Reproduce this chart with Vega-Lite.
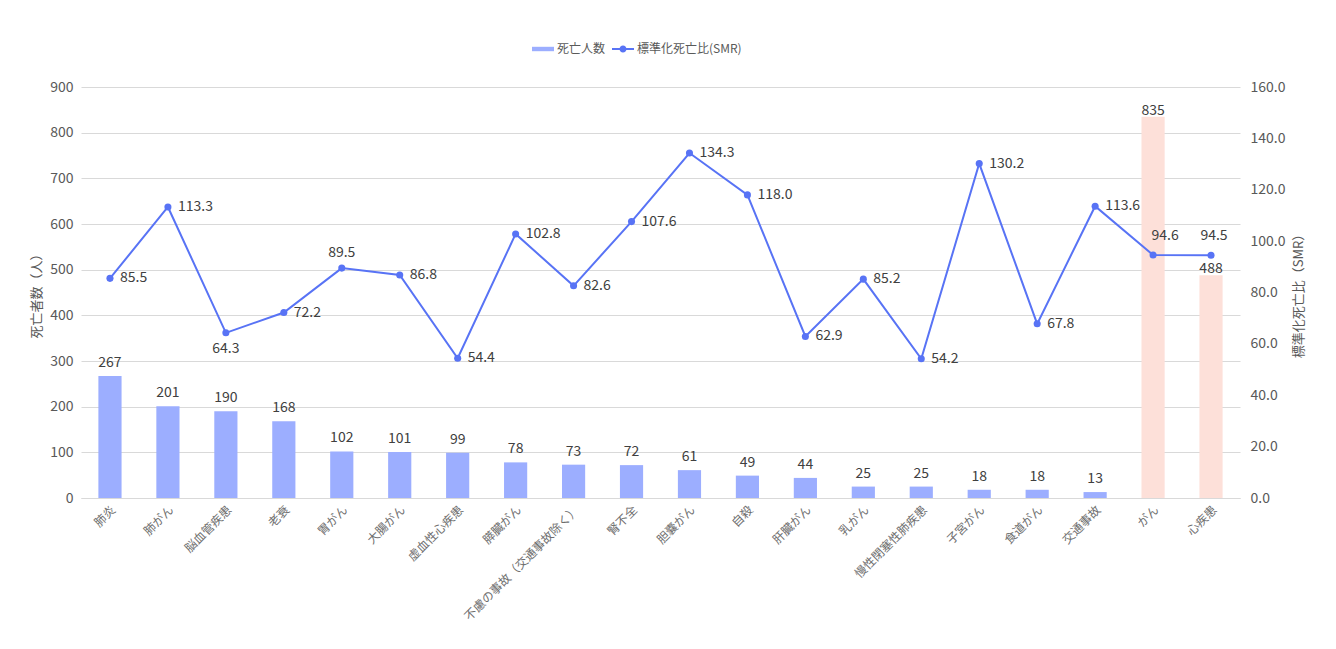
{
  "$schema": "https://vega.github.io/schema/vega-lite/v6.json",
  "width": 1159,
  "height": 411,
  "padding": {"left": 30, "top": 38, "right": 30, "bottom": 5},
  "background": "white",
  "config": {
    "font": "Noto Sans CJK JP",
    "view": {"stroke": null},
    "axis": {"labelColor": "#595959", "titleColor": "#595959", "titleFontWeight": "normal", "gridColor": "#d9d9d9", "domainColor": "#d9d9d9"}
  },
  "data": {
    "values": [
      {"cause": "肺炎", "deaths": 267, "smr": 85.5, "group": "detail"},
      {"cause": "肺がん", "deaths": 201, "smr": 113.3, "group": "detail"},
      {"cause": "脳血管疾患", "deaths": 190, "smr": 64.3, "group": "detail"},
      {"cause": "老衰", "deaths": 168, "smr": 72.2, "group": "detail"},
      {"cause": "胃がん", "deaths": 102, "smr": 89.5, "group": "detail"},
      {"cause": "大腸がん", "deaths": 101, "smr": 86.8, "group": "detail"},
      {"cause": "虚血性心疾患", "deaths": 99, "smr": 54.4, "group": "detail"},
      {"cause": "膵臓がん", "deaths": 78, "smr": 102.8, "group": "detail"},
      {"cause": "不慮の事故（交通事故除く）", "deaths": 73, "smr": 82.6, "group": "detail"},
      {"cause": "腎不全", "deaths": 72, "smr": 107.6, "group": "detail"},
      {"cause": "胆嚢がん", "deaths": 61, "smr": 134.3, "group": "detail"},
      {"cause": "自殺", "deaths": 49, "smr": 118.0, "group": "detail"},
      {"cause": "肝臓がん", "deaths": 44, "smr": 62.9, "group": "detail"},
      {"cause": "乳がん", "deaths": 25, "smr": 85.2, "group": "detail"},
      {"cause": "慢性閉塞性肺疾患", "deaths": 25, "smr": 54.2, "group": "detail"},
      {"cause": "子宮がん", "deaths": 18, "smr": 130.2, "group": "detail"},
      {"cause": "食道がん", "deaths": 18, "smr": 67.8, "group": "detail"},
      {"cause": "交通事故", "deaths": 13, "smr": 113.6, "group": "detail"},
      {"cause": "がん", "deaths": 835, "smr": 94.6, "group": "total"},
      {"cause": "心疾患", "deaths": 488, "smr": 94.5, "group": "total"}
    ]
  },
  "encoding": {
    "x": {
      "field": "cause", "type": "nominal", "sort": null,
      "scale": {"paddingInner": 0.6, "paddingOuter": 0.3},
      "axis": {"title": null, "labelAngle": -45, "labelFontSize": 12, "labelColor": "#6e6e6e", "ticks": false, "labelPadding": 6, "domainColor": "#d9d9d9"}
    }
  },
  "layer": [
    {
      "encoding": {
        "y": {
          "field": "deaths", "type": "quantitative",
          "scale": {"domain": [0, 900], "nice": false},
          "axis": {"title": "死亡者数（人）", "titleFontSize": 13, "values": [0,100,200,300,400,500,600,700,800,900], "labelFontSize": 14, "domain": false, "ticks": false, "labelPadding": 8, "titlePadding": 6, "grid": true}
        }
      },
      "layer": [
        {
          "transform": [{"filter": "datum.group === 'detail'"}],
          "mark": {"type": "bar"},
          "encoding": {"color": {"datum": "死亡人数", "type": "nominal"}}
        },
        {
          "transform": [{"filter": "datum.group === 'total'"}],
          "mark": {"type": "bar", "color": "#fde0d9"}
        },
        {
          "transform": [{"filter": "datum.group === 'detail'"}],
          "mark": {"type": "text", "baseline": "bottom", "dy": -6, "fontSize": 14, "color": "#404040"},
          "encoding": {"text": {"field": "deaths", "type": "quantitative"}}
        },
        {
          "transform": [{"filter": "datum.group === 'total'"}],
          "mark": {"type": "text", "baseline": "bottom", "dy": 1, "fontSize": 14, "color": "#404040"},
          "encoding": {"text": {"field": "deaths", "type": "quantitative"}}
        }
      ]
    },
    {
      "encoding": {
        "y": {
          "field": "smr", "type": "quantitative",
          "scale": {"domain": [0, 160], "nice": false},
          "axis": {"orient": "right", "title": "標準化死亡比（SMR）", "titleAngle": -90, "titleBaseline": "top", "titleFontSize": 13, "format": ".1f", "values": [0,20,40,60,80,100,120,140,160], "labelFontSize": 14, "domain": false, "ticks": false, "grid": false, "labelPadding": 10, "titlePadding": 8}
        }
      },
      "layer": [
        {
          "mark": {"type": "line", "strokeWidth": 2, "point": {"size": 50, "filled": true}},
          "encoding": {
            "color": {
              "datum": "標準化死亡比(SMR)", "type": "nominal",
              "scale": {"domain": ["死亡人数", "標準化死亡比(SMR)"], "range": ["#9caeff", "#5873f5"]},
              "legend": {
                "title": null, "orient": "none", "direction": "horizontal", "legendX": 451, "legendY": -49,
                "labelFontSize": 12, "labelColor": "#595959", "labelOffset": 3, "columnPadding": 6,
                "symbolSize": 484,
                "encoding": {
                  "symbols": {
                    "shape": {"condition": {"test": "datum.value === '死亡人数'", "value": "M-1,-0.2H1V0.2H-1Z"}, "value": "M-1,-0.09H1V0.09H-1Z M-0.32,0 A0.32,0.32 0 1,1 0.32,0 A0.32,0.32 0 1,1 -0.32,0 Z"},
                    "fill": {"condition": {"test": "datum.value === '死亡人数'", "value": "#9caeff"}, "value": "#5873f5"},
                    "stroke": {"value": "transparent"},
                    "strokeWidth": {"value": 0},
                    "opacity": {"value": 1}
                  }
                }
              }
            }
          }
        },
        {
          "transform": [{"filter": "indexof(['脳血管疾患','胃がん','がん','心疾患'], datum.cause) < 0"}],
          "mark": {"type": "text", "align": "left", "baseline": "middle", "dx": 10, "fontSize": 14, "color": "#404040"},
          "encoding": {"text": {"field": "smr", "type": "quantitative", "format": ".1f"}}
        },
        {
          "transform": [{"filter": "datum.cause === '脳血管疾患'"}],
          "mark": {"type": "text", "align": "center", "baseline": "top", "dy": 9, "fontSize": 14, "color": "#404040"},
          "encoding": {"text": {"field": "smr", "type": "quantitative", "format": ".1f"}}
        },
        {
          "transform": [{"filter": "datum.cause === '胃がん'"}],
          "mark": {"type": "text", "align": "center", "baseline": "bottom", "dy": -8, "fontSize": 14, "color": "#404040"},
          "encoding": {"text": {"field": "smr", "type": "quantitative", "format": ".1f"}}
        },
        {
          "transform": [{"filter": "datum.cause === 'がん'"}],
          "mark": {"type": "text", "align": "center", "baseline": "bottom", "dx": 12, "dy": -12, "fontSize": 14, "color": "#404040"},
          "encoding": {"text": {"field": "smr", "type": "quantitative", "format": ".1f"}}
        },
        {
          "transform": [{"filter": "datum.cause === '心疾患'"}],
          "mark": {"type": "text", "align": "center", "baseline": "bottom", "dx": 3, "dy": -12, "fontSize": 14, "color": "#404040"},
          "encoding": {"text": {"field": "smr", "type": "quantitative", "format": ".1f"}}
        }
      ]
    }
  ],
  "resolve": {"scale": {"y": "independent"}}
}
